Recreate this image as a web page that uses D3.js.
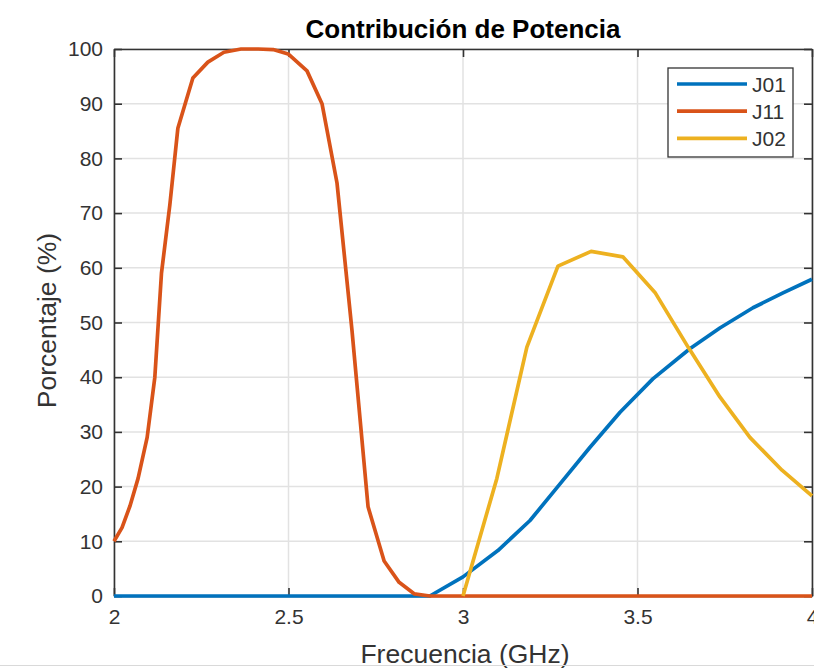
<!DOCTYPE html>
<html>
<head>
<meta charset="utf-8">
<script src="https://cdn.jsdelivr.net/npm/d3@7"></script>
<style>
  body { margin: 0; background: #fff; }
  svg { display: block; }
  text { font-family: "Liberation Sans", Arial, Helvetica, sans-serif; }
</style>
</head>
<body>
<script>
// Axis ticks
const xTicks = [2, 2.5, 3, 3.5, 4];
const xTickLabels = ["2", "2.5", "3", "3.5", "4"];
const yTicks = [0, 10, 20, 30, 40, 50, 60, 70, 80, 90, 100];

// Series: frequency (GHz) and power contribution (%)
const seriesNames = ["J01", "J11", "J02"];
const seriesColors = ["#0072BD", "#D95319", "#EDB120"];

const j01Freq = [2.000, 2.905, 3.000, 3.100, 3.192, 3.278, 3.364, 3.450, 3.544, 3.650, 3.736, 3.831, 3.917, 4.000];
const j01Values = [0, 0, 3.5, 8.3, 13.8, 20.5, 27.2, 33.6, 39.7, 45.2, 49.0, 52.7, 55.4, 57.9];

const j11Freq = [2.000, 2.023, 2.046, 2.069, 2.095, 2.117, 2.136, 2.160, 2.183, 2.226, 2.269, 2.315, 2.364, 2.413, 2.456, 2.499, 2.553, 2.596, 2.639, 2.682, 2.728, 2.774, 2.817, 2.860, 2.905, 4.000];
const j11Values = [10, 12.5, 16.5, 21.5, 29, 40, 59, 71.5, 85.5, 94.7, 97.6, 99.4, 100, 100, 99.9, 99.1, 96, 90, 75.5, 48.5, 16.3, 6.4, 2.5, 0.4, 0, 0];

const j02Freq = [3.000, 3.097, 3.183, 3.272, 3.367, 3.458, 3.550, 3.645, 3.736, 3.822, 3.914, 4.000];
const j02Values = [0, 21.5, 45.5, 60.3, 63, 62, 55.5, 45.5, 36.4, 29, 23, 18.3];

const titleText = "Contribución de Potencia";
const xLabelText = "Frecuencia (GHz)";
const yLabelText = "Porcentaje (%)";

const W = 814, H = 671;
const margin = { left: 114, top: 49, right: 2, bottom: 75 };
const plotW = W - margin.left - margin.right;
const plotH = H - margin.top - margin.bottom;

const svg = d3.select("body").append("svg").attr("width", W).attr("height", H);

const x = d3.scaleLinear().domain([2, 4]).range([0, plotW]);
const y = d3.scaleLinear().domain([0, 100]).range([plotH, 0]);

const g = svg.append("g").attr("transform", `translate(${margin.left},${margin.top})`);

// Grid
const grid = g.append("g").attr("stroke", "#e2e2e2").attr("stroke-width", 1.5);
grid.selectAll(".gx").data(xTicks).join("line")
  .attr("x1", d => x(d)).attr("x2", d => x(d)).attr("y1", 0).attr("y2", plotH);
grid.selectAll(".gy").data(yTicks).join("line")
  .attr("x1", 0).attr("x2", plotW).attr("y1", d => y(d)).attr("y2", d => y(d));

const axisColor = "#333333";
const tickLen = 8;

// Axes with inward ticks on all four sides
const xAxisBottom = d3.axisBottom(x).tickValues(xTicks).tickFormat((d, i) => xTickLabels[i])
  .tickSizeInner(-tickLen).tickSizeOuter(0).tickPadding(tickLen + 5);
const xAxisTop = d3.axisTop(x).tickValues(xTicks).tickFormat("").tickSizeInner(-tickLen).tickSizeOuter(0);
const yAxisLeft = d3.axisLeft(y).tickValues(yTicks).tickSizeInner(-tickLen).tickSizeOuter(0).tickPadding(tickLen + 3);
const yAxisRight = d3.axisRight(y).tickValues(yTicks).tickFormat("").tickSizeInner(-tickLen).tickSizeOuter(0);

function styleAxis(sel) {
  sel.select(".domain").attr("stroke", axisColor).attr("stroke-width", 1.6);
  sel.selectAll(".tick line").attr("stroke", axisColor).attr("stroke-width", 1.6);
  sel.selectAll(".tick text").attr("fill", axisColor).style("font-size", "21px")
    .style("font-family", '"Liberation Sans", Arial, sans-serif');
}

const gxb = g.append("g").attr("transform", `translate(0,${plotH})`).call(xAxisBottom).call(styleAxis);
gxb.selectAll(".tick text").attr("dy", "0.71em");
g.append("g").call(xAxisTop).call(styleAxis);
g.append("g").call(yAxisLeft).call(styleAxis);
g.append("g").attr("transform", `translate(${plotW},0)`).call(yAxisRight).call(styleAxis);

// Series lines
const series = [
  { name: seriesNames[0], color: seriesColors[0], freq: j01Freq, values: j01Values },
  { name: seriesNames[1], color: seriesColors[1], freq: j11Freq, values: j11Values },
  { name: seriesNames[2], color: seriesColors[2], freq: j02Freq, values: j02Values }
];
const line = d3.line().x(d => x(d[0])).y(d => y(d[1]));
g.append("g").selectAll("path").data(series).join("path")
  .attr("fill", "none")
  .attr("stroke", d => d.color)
  .attr("stroke-width", 3.7)
  .attr("stroke-linejoin", "round")
  .attr("d", d => line(d.freq.map((f, i) => [f, d.values[i]])));

// Legend
const legend = svg.append("g").attr("transform", "translate(668,68)");
legend.append("rect").attr("width", 125).attr("height", 89)
  .attr("fill", "#fff").attr("stroke", axisColor).attr("stroke-width", 1.3);
series.forEach((s, i) => {
  const cy = 16 + i * 27.2;
  legend.append("line").attr("x1", 9).attr("x2", 79).attr("y1", cy).attr("y2", cy)
    .attr("stroke", s.color).attr("stroke-width", 3.7);
  legend.append("text").attr("x", 84).attr("y", cy).attr("dy", "0.36em")
    .attr("fill", axisColor).style("font-size", "21px").text(s.name);
});

// Title and axis labels
svg.append("text").attr("x", margin.left + plotW / 2).attr("y", 38)
  .attr("text-anchor", "middle").attr("fill", "#000")
  .style("font-size", "26px").style("font-weight", "bold").text(titleText);
svg.append("text").attr("x", 465).attr("y", 663)
  .attr("text-anchor", "middle").attr("fill", axisColor)
  .style("font-size", "26.5px").text(xLabelText);
svg.append("text").attr("transform", `translate(56,${margin.top + plotH / 2 - 2}) rotate(-90)`)
  .attr("text-anchor", "middle").attr("fill", axisColor)
  .style("font-size", "26.5px").text(yLabelText);

// Thin separator along the bottom edge
svg.append("line").attr("x1", 0).attr("x2", W).attr("y1", 665.5).attr("y2", 665.5)
  .attr("stroke", "#d9d9d9").attr("stroke-width", 1);
</script>
</body>
</html>
